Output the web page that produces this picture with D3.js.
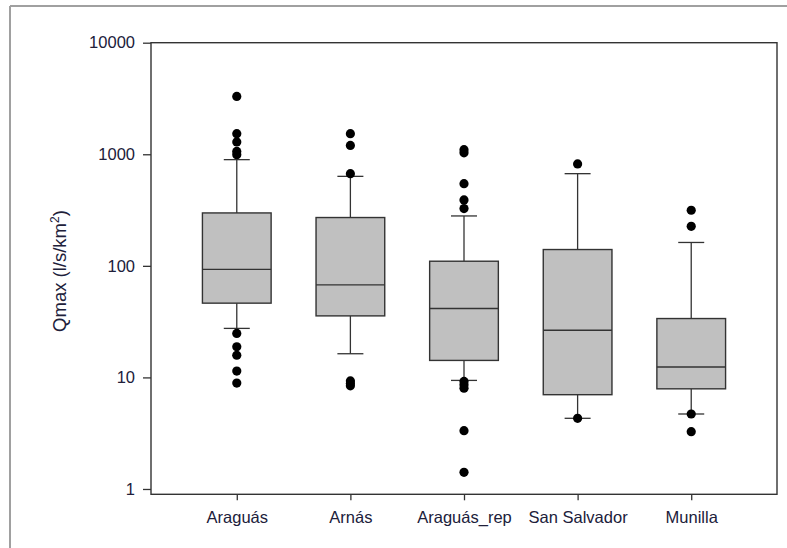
<!DOCTYPE html>
<html>
<head>
<meta charset="utf-8">
<script src="https://cdn.jsdelivr.net/npm/d3@7/dist/d3.min.js"></script>
<style>
  html, body { margin: 0; padding: 0; background: #fff; }
  svg { display: block; }
  text { font-family: Arial, "Liberation Sans", sans-serif; fill: #20203a; }
</style>
</head>
<body>
<svg id="chart" width="787" height="548"></svg>
<script>
// Maximum specific discharge per catchment (l/s/km²), box summaries
const categories = ["Araguás", "Arnás", "Araguás_rep", "San Salvador", "Munilla"];
const q1          = [46.3, 35.6, 14.2, 7.0, 7.9];
const medians     = [93, 67.5, 41.5, 26.5, 12.4];
const q3          = [298, 271, 110, 140, 33.7];
const whiskerLow  = [27.5, 16.3, 9.4, 4.3, 4.7];
const whiskerHigh = [895, 634, 280, 670, 162];
const outliers = [
  [3300, 1530, 1290, 1060, 990, 24.8, 18.8, 15.8, 11.4, 8.9],
  [1530, 1200, 670, 9.3, 8.8, 8.4],
  [1100, 1030, 545, 390, 326, 9.2, 8.6, 8.0, 3.33, 1.41],
  [820, 4.3],
  [315, 226, 4.7, 3.26]
];
const yTicks = [1, 10, 100, 1000, 10000];

const svg = d3.select("#chart");
const plot = { left: 151, right: 777, top: 42.7, bottom: 494.3 };

// outer frame (top and left edges visible)
svg.append("line").attr("x1", 10).attr("y1", 6).attr("x2", 787).attr("y2", 6)
  .attr("stroke", "#a0a0a0").attr("stroke-width", 2);
svg.append("line").attr("x1", 10).attr("y1", 6).attr("x2", 10).attr("y2", 548)
  .attr("stroke", "#a0a0a0").attr("stroke-width", 2);

const x = d3.scalePoint().domain(categories)
  .range([plot.left, plot.right]).padding(0.755);
const y = d3.scaleLog().domain([0.896, 10000]).range([plot.bottom, plot.top]);

const boxW = 68.7, capW = 26;
const ink = "#333";

// axes
const yAxis = d3.axisLeft(y).tickValues(yTicks).tickFormat(d3.format("d"))
  .tickSize(8).tickPadding(8);
const gy = svg.append("g").attr("transform", `translate(${plot.left},0)`).call(yAxis);
gy.select(".domain").remove();
gy.selectAll("line").attr("stroke", ink).attr("stroke-width", 1.3);
gy.selectAll("text").attr("font-size", "16.5px").attr("fill", "#20203a")
  .style("font-family", "Arial, 'Liberation Sans', sans-serif");

const xAxis = d3.axisBottom(x).tickSize(6).tickPadding(11);
const gx = svg.append("g").attr("transform", `translate(0,${plot.bottom})`).call(xAxis);
gx.select(".domain").remove();
gx.selectAll("line").attr("stroke", ink).attr("stroke-width", 1.3);
gx.selectAll("text").attr("font-size", "16.5px").attr("fill", "#20203a")
  .style("font-family", "Arial, 'Liberation Sans', sans-serif");

// plot frame
svg.append("rect")
  .attr("x", plot.left).attr("y", plot.top)
  .attr("width", plot.right - plot.left).attr("height", plot.bottom - plot.top)
  .attr("fill", "none").attr("stroke", ink).attr("stroke-width", 1.4);

// boxes
const data = categories.map((c, i) => ({
  c, q1: q1[i], med: medians[i], q3: q3[i],
  lo: whiskerLow[i], hi: whiskerHigh[i], out: outliers[i]
}));

const g = svg.append("g");
data.forEach(d => {
  const cx = x(d.c);
  // whiskers
  g.append("line").attr("x1", cx).attr("x2", cx).attr("y1", y(d.q3)).attr("y2", y(d.hi))
    .attr("stroke", ink).attr("stroke-width", 1.3);
  g.append("line").attr("x1", cx).attr("x2", cx).attr("y1", y(d.q1)).attr("y2", y(d.lo))
    .attr("stroke", ink).attr("stroke-width", 1.3);
  [d.hi, d.lo].forEach(v => {
    g.append("line").attr("x1", cx - capW / 2).attr("x2", cx + capW / 2)
      .attr("y1", y(v)).attr("y2", y(v)).attr("stroke", ink).attr("stroke-width", 1.3);
  });
  // box
  g.append("rect").attr("x", cx - boxW / 2).attr("width", boxW)
    .attr("y", y(d.q3)).attr("height", y(d.q1) - y(d.q3))
    .attr("fill", "#c0c0c0").attr("stroke", ink).attr("stroke-width", 1.4);
  g.append("line").attr("x1", cx - boxW / 2).attr("x2", cx + boxW / 2)
    .attr("y1", y(d.med)).attr("y2", y(d.med)).attr("stroke", ink).attr("stroke-width", 1.4);
  // outliers
  g.selectAll(null).data(d.out).enter().append("circle")
    .attr("cx", cx).attr("cy", v => y(v)).attr("r", 4.6).attr("fill", "#000");
});

// y-axis title
const title = svg.append("text")
  .attr("transform", "translate(66,271) rotate(-90)")
  .attr("text-anchor", "middle").attr("font-size", "18.5px");
title.append("tspan").text("Qmax (l/s/km");
title.append("tspan").attr("baseline-shift", "super").attr("font-size", "12px").text("2");
title.append("tspan").text(")");
</script>
</body>
</html>
